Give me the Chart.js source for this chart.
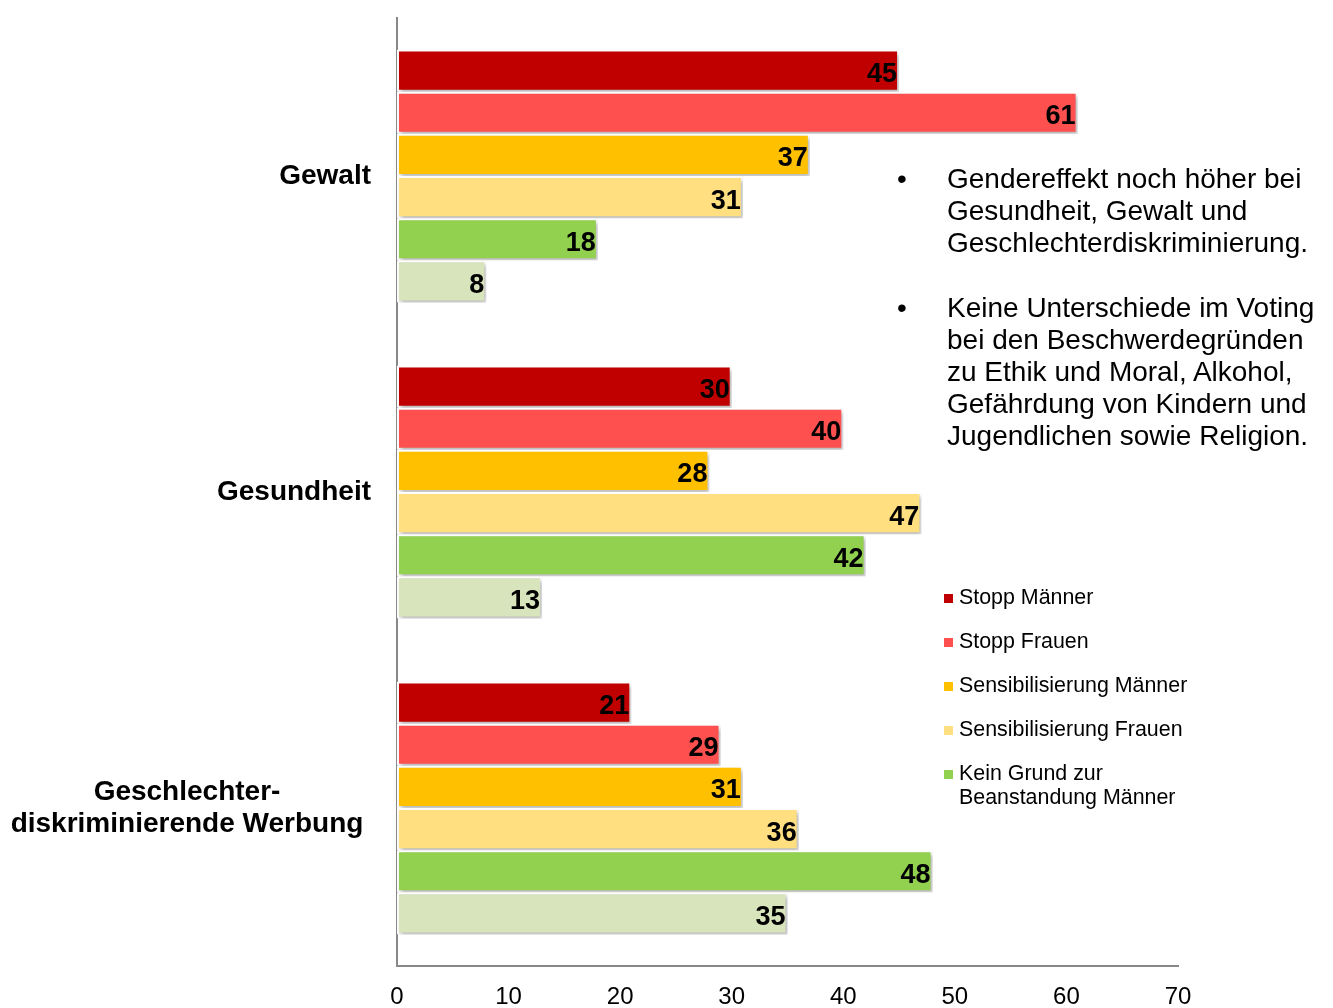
<!DOCTYPE html>
<html>
<head>
<meta charset="utf-8">
<script src="https://cdn.jsdelivr.net/npm/chart.js@4.4.1/dist/chart.umd.min.js"></script>
<style>
  html, body { margin: 0; padding: 0; background: #fff; }
  #wrap { position: relative; width: 1333px; height: 1008px; font-family: "Liberation Sans", Arial, sans-serif; }
  #chart { position: absolute; left: 0; top: 0; }
  .notes { position: absolute; left: 897px; top: 163px; width: 436px; font-size: 28px; line-height: 32px; color: #000; white-space: nowrap; }
  .notes .item { position: relative; padding-left: 50px; margin-bottom: 33px; }
  .notes .item span.b { position: absolute; left: 0; top: 0; }
  .legend { position: absolute; left: 944px; top: 585px; font-size: 21.4px; color: #000; white-space: nowrap; }
  .legend .row { position: relative; padding-left: 15px; line-height: 24px; margin-bottom: 20px; }
  .legend .sw { position: absolute; left: 0; top: 9px; width: 9px; height: 9px; }
</style>
</head>
<body>
<div id="wrap">
  <canvas id="chart" width="1333" height="1008"></canvas>
  <div class="notes" id="notes"></div>
  <div class="legend" id="legend"></div>
</div>
<script>
const categories = ["Gewalt", ["Gesundheit"], ["Geschlechter-", "diskriminierende Werbung"]];
const seriesNames = [
  "Stopp Männer",
  "Stopp Frauen",
  "Sensibilisierung Männer",
  "Sensibilisierung Frauen",
  "Kein Grund zur Beanstandung Männer",
  "Kein Grund zur Beanstandung Frauen"
];
const stoppMaenner = [45, 30, 21];
const stoppFrauen = [61, 40, 29];
const sensMaenner = [37, 28, 31];
const sensFrauen = [31, 47, 36];
const keinGrundMaenner = [18, 42, 48];
const keinGrundFrauen = [8, 13, 35];
const colors = ["#C00000", "#FF5050", "#FFC000", "#FFDF80", "#92D050", "#D8E4BC"];
const xTicks = [0, 10, 20, 30, 40, 50, 60, 70];
const notes = [
  ["Gendereffekt noch höher bei", "Gesundheit, Gewalt und", "Geschlechterdiskriminierung."],
  ["Keine Unterschiede im Voting", "bei den Beschwerdegründen", "zu Ethik und Moral, Alkohol,", "Gefährdung von Kindern und", "Jugendlichen sowie Religion."]
];
const legendLines = [
  ["Stopp Männer"],
  ["Stopp Frauen"],
  ["Sensibilisierung Männer"],
  ["Sensibilisierung Frauen"],
  ["Kein Grund zur", "Beanstandung Männer"]
];

const allValues = [stoppMaenner, stoppFrauen, sensMaenner, sensFrauen, keinGrundMaenner, keinGrundFrauen];

// notes + legend as html
const notesEl = document.getElementById("notes");
notes.forEach((lines) => {
  const d = document.createElement("div");
  d.className = "item";
  d.innerHTML = '<span class="b">•</span>' + lines.join("<br>");
  notesEl.appendChild(d);
});
const legendEl = document.getElementById("legend");
legendLines.forEach((lines, i) => {
  const d = document.createElement("div");
  d.className = "row";
  d.innerHTML = '<span class="sw" style="background:' + colors[i] + '"></span>' + lines.join("<br>");
  legendEl.appendChild(d);
});

const shadowPlugin = {
  id: "shadow",
  beforeDatasetsDraw(chart) {
    const ctx = chart.ctx;
    ctx.save();
    ctx.shadowColor = "rgba(0,0,0,0.28)";
    ctx.shadowBlur = 4;
    ctx.shadowOffsetX = 2;
    ctx.shadowOffsetY = 3;
  },
  afterDatasetsDraw(chart) {
    chart.ctx.restore();
  }
};

const labelPlugin = {
  id: "labels",
  afterDatasetsDraw(chart) {
    const ctx = chart.ctx;
    ctx.save();
    ctx.font = "bold 27px 'Liberation Sans', Arial, sans-serif";
    ctx.fillStyle = "#000";
    ctx.textAlign = "right";
    ctx.textBaseline = "middle";
    chart.data.datasets.forEach((ds, di) => {
      chart.getDatasetMeta(di).data.forEach((bar, i) => {
        ctx.fillText(String(ds.data[i]), bar.x - 2, bar.y + 4);
      });
    });
    // category labels
    const y = chart.scales.y;
    ctx.font = "bold 28px 'Liberation Sans', Arial, sans-serif";
    chart.data.labels.forEach((lab, i) => {
      const cy = y.getPixelForValue(i);
      if (Array.isArray(lab) && lab.length > 1) {
        ctx.textAlign = "center";
        lab.forEach((line, k) => {
          ctx.fillText(line, 187, cy + (k - (lab.length - 1) / 2) * 32);
        });
      } else {
        ctx.textAlign = "right";
        ctx.fillText(Array.isArray(lab) ? lab[0] : lab, 371, cy);
      }
    });
    ctx.restore();
  }
};

new Chart(document.getElementById("chart"), {
  type: "bar",
  data: {
    labels: categories,
    datasets: allValues.map((vals, i) => ({
      label: seriesNames[i],
      data: vals,
      backgroundColor: colors[i],
      borderColor: "#ffffff",
      borderWidth: 2,
      borderSkipped: false,
      categoryPercentage: 0.8,
      barPercentage: 1.0
    }))
  },
  options: {
    indexAxis: "y",
    responsive: false,
    animation: false,
    layout: { padding: { top: 18, right: 155, left: 0, bottom: 0 } },
    plugins: { legend: { display: false }, tooltip: { enabled: false } },
    scales: {
      x: {
        min: 0,
        max: 70,
        afterBuildTicks: (s) => { s.ticks = xTicks.map((v) => ({ value: v })); },
        afterFit: (s) => { s.height = 42; },
        grid: { display: false, drawTicks: false },
        border: { color: "#888888", width: 2 },
        ticks: {
          color: "#000",
          padding: 17,
          maxRotation: 0,
          font: { family: "'Liberation Sans', Arial, sans-serif", size: 24 }
        }
      },
      y: {
        afterFit: (s) => { s.width = 397; },
        grid: { display: false, drawTicks: false },
        border: { color: "#888888", width: 2 },
        ticks: { display: false }
      }
    }
  },
  plugins: [shadowPlugin, labelPlugin]
});
</script>
</body>
</html>
